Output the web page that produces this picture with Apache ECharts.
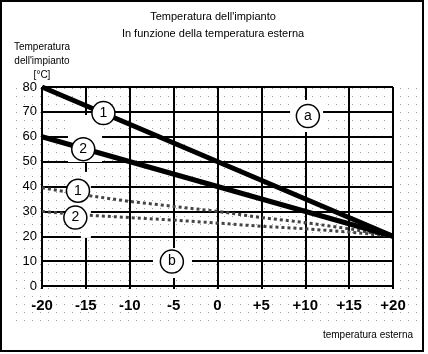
<!DOCTYPE html>
<html>
<head>
<meta charset="utf-8">
<script src="https://cdn.jsdelivr.net/npm/echarts@6/dist/echarts.min.js"></script>
<style>
html,body{margin:0;padding:0;background:#fff;}
#c{width:428px;height:354px;}
</style>
</head>
<body>
<div id="c"></div>
<script>
// ---- data ----
const xTicks = [-20, -15, -10, -5, 0, 5, 10, 15, 20];
const yTicks = [0, 10, 20, 30, 40, 50, 60, 70, 80];
// solid curves (straight lines, endpoints read)
const solidX = [-20, 20];
const curve1 = [80, 20];
const curve2 = [60, 20];
// dotted curves (read at every 5 °C)
const dottedX = [-20, -15, -10, -5, 0, 5, 10, 15, 20];
const dotted1 = [39.5, 36.5, 34, 32, 30, 27.5, 25.5, 23, 20];
const dotted2 = [30, 28.5, 27.5, 26.5, 25.3, 24, 23, 21.7, 20];
// circled annotations: [x, y, text]
const markers = [
  [-13, 69.5, '1'],
  [-15.3, 55, '2'],
  [-15.9, 38.3, '1'],
  [-16.2, 27.5, '2'],
  [10.3, 68.3, 'a'],
  [-5.2, 9.8, 'b']
];
// white gaps cut in the grid around annotations: [x, y]
const gapAnchors = [[-15.1, 59.3], [-15, 32.6], [10.15, 68.3], [-5.13, 9.25]];
const gapSizes = [[34, 47], [10, 66], [33, 32], [39, 30]];

const zip = (xs, ys) => xs.map((x, i) => [x, ys[i]]);

const pat = document.createElement('canvas');
pat.width = 8; pat.height = 8;
const pctx = pat.getContext('2d');
pctx.fillStyle = '#a0a0a0';
pctx.fillRect(0, 0, 1, 1);

const sans = '"Liberation Sans", Arial, sans-serif';
const chart = echarts.init(document.getElementById('c'), null, {renderer: 'canvas'});
chart.setOption({
  animation: false,
  backgroundColor: '#fff',
  title: [
    {
      text: 'Temperatura dell\'impianto\nIn funzione della temperatura esterna',
      left: 213, top: 8, textAlign: 'center', padding: 0,
      textStyle: {fontFamily: sans, fontSize: 11, fontWeight: 'normal', color: '#000', lineHeight: 17}
    },
    {
      text: 'Temperatura\ndell\'impianto\n[°C]',
      left: 42, top: 40, textAlign: 'center', padding: 0,
      textStyle: {fontFamily: sans, fontSize: 10, fontWeight: 'normal', color: '#000', lineHeight: 14}
    },
    {
      text: 'temperatura esterna',
      right: 15, top: 330, padding: 0,
      textStyle: {fontFamily: sans, fontSize: 10, fontWeight: 'normal', color: '#000'}
    }
  ],
  graphic: [
    {type: 'rect', z: -10, silent: true, shape: {x: 12, y: 82, width: 408, height: 241},
     style: {fill: {image: pat, repeat: 'repeat'}}},
    {type: 'rect', z: 100, silent: true, shape: {x: 1, y: 1, width: 422, height: 350},
     style: {fill: null, stroke: '#000', lineWidth: 2}}
  ],
  grid: {left: 42, right: 35, top: 87, bottom: 68},
  xAxis: [
    {
      type: 'value', min: xTicks[0], max: xTicks[xTicks.length - 1], interval: 5,
      axisLine: {show: true, onZero: false, lineStyle: {color: '#000', width: 2}},
      axisTick: {show: true, length: 3, lineStyle: {color: '#000', width: 2}},
      splitLine: {show: true, lineStyle: {color: '#000', width: 2}},
      axisLabel: {
        margin: 12, color: '#000', fontFamily: sans, fontWeight: 'bold', fontSize: 15,
        formatter: v => (v > 0 ? '+' + v : String(v))
      }
    },
    {
      type: 'value', position: 'top', min: xTicks[0], max: xTicks[xTicks.length - 1], interval: 5,
      axisLine: {show: false},
      axisTick: {show: true, length: 4, lineStyle: {color: '#000', width: 2}},
      splitLine: {show: false}, axisLabel: {show: false}
    }
  ],
  yAxis: [
    {
      type: 'value', min: yTicks[0], max: yTicks[yTicks.length - 1], interval: 10,
      axisLine: {show: true, lineStyle: {color: '#000', width: 2}},
      axisTick: {show: true, length: 4, lineStyle: {color: '#000', width: 2}},
      splitLine: {show: true, lineStyle: {color: '#000', width: 2}},
      axisLabel: {margin: 5, color: '#000', fontFamily: sans, fontSize: 13}
    },
    {
      type: 'value', position: 'right', min: yTicks[0], max: yTicks[yTicks.length - 1], interval: 10,
      axisLine: {show: false},
      axisTick: {show: true, length: 4, lineStyle: {color: '#000', width: 2}},
      splitLine: {show: false}, axisLabel: {show: false}
    }
  ],
  series: [
    {
      type: 'scatter', z: 1, silent: true,
      data: gapAnchors.map((p, i) => [p[0], p[1], gapSizes[i][0], gapSizes[i][1]]),
      symbol: 'rect', symbolSize: v => [v[2], v[3]],
      itemStyle: {color: '#fff', opacity: 1}
    },
    {
      type: 'line', z: 2, data: zip(dottedX, dotted1), symbol: 'none',
      lineStyle: {color: '#444', width: 3, type: [3, 3]}
    },
    {
      type: 'line', z: 2, data: zip(dottedX, dotted2), symbol: 'none',
      lineStyle: {color: '#444', width: 3, type: [3, 3]}
    },
    {
      type: 'line', z: 3, data: zip(solidX, curve1), symbol: 'none',
      lineStyle: {color: '#000', width: 5}
    },
    {
      type: 'line', z: 3, data: zip(solidX, curve2), symbol: 'none',
      lineStyle: {color: '#000', width: 5}
    },
    {
      type: 'scatter', z: 4, silent: true,
      data: markers,
      symbol: 'circle', symbolSize: 23,
      itemStyle: {color: '#fff', borderColor: '#000', borderWidth: 1.5, opacity: 1},
      label: {
        show: true, position: 'inside', formatter: p => p.data[2],
        color: '#000', fontSize: 14, fontFamily: sans
      }
    }
  ]
});
</script>
</body>
</html>
